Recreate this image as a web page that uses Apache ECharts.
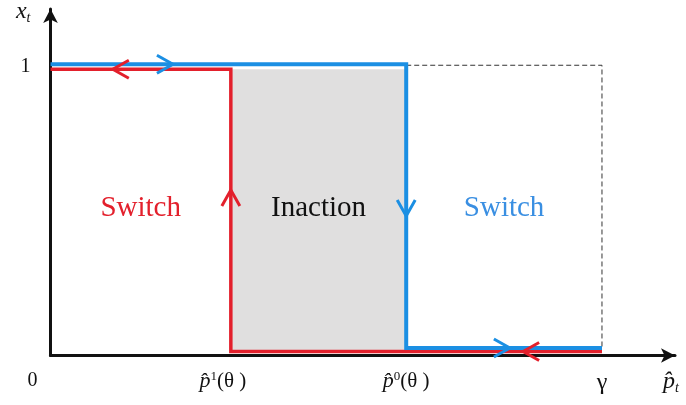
<!DOCTYPE html>
<html>
<head>
<meta charset="utf-8">
<script src="https://cdn.jsdelivr.net/npm/echarts@6/dist/echarts.min.js"></script>
<style>
  html, body { margin: 0; padding: 0; background: #fff; }
  #chart { width: 686px; height: 405px; }
</style>
</head>
<body>
<div id="chart"></div>
<script>
// Thresholds on the belief axis (gamma normalised to 1)
const P1 = 0.327;      // p̂¹(θ)
const P0 = 0.645;      // p̂⁰(θ)
const GAMMA = 1;

// Tick marks along the horizontal axis and their labels
const xTickValues = [0, P1, P0, GAMMA];
const xTickLabels = ['{z|0}', '{i|p̂}{s|1}{r|(θ )}{g| }', '{i|p̂}{s|0}{r|(θ )}', '{y|γ}'];
const yTickValues = [1];
const yTickLabels = ['1'];

// Policy paths (x_t as a function of p̂_t)
const redPath = [[0, 1], [P1, 1], [P1, 0], [GAMMA, 0]];
const bluePath = [[0, 1], [P0, 1], [P0, 0], [GAMMA, 0]];
const boundaryPath = [[P0, 1], [GAMMA, 1], [GAMMA, 0]];
const inactionBand = [[P1, 0], [P0, 1]];

// Direction markers: [x, y, direction]
const redArrows = [[0.113, 1, 'left'], [P1, 0.573, 'up'], [0.857, 0, 'left']];
const blueArrows = [[0.222, 1, 'right'], [P0, 0.483, 'down'], [0.833, 0, 'right']];

// Region captions
const regionNames = ['Switch', 'Inaction', 'Switch'];
const regionX = [(0 + P1) / 2, (P1 + P0) / 2, (P0 + GAMMA) / 2];
const regionY = [0.51, 0.51, 0.51];

const RED = '#e3202c';
const BLUE = '#1b8fe3';
const SERIF = '"Liberation Serif", "Times New Roman", serif';

// pixel nudges so overlapping paths stay visible
const nudge = {
  red: { top: 2.5, bottom: -4 },
  blue: { top: -2.5, bottom: -7.5 },
  dash: { top: -1.5, bottom: -7.5 }
};
const angleOf = { right: 0, up: Math.PI / 2, left: Math.PI, down: -Math.PI / 2 };

function nudged(api, x, y, n) {
  const c = api.coord([x, y]);
  if (y === 1) c[1] += n.top;
  else if (y === 0) c[1] += n.bottom;
  return c;
}

function pathSeries(points, n, style, z) {
  return {
    type: 'custom',
    coordinateSystem: 'cartesian2d',
    z: z,
    silent: true,
    data: points,
    renderItem: function (params, api) {
      if (params.dataIndex !== 0) return null;
      const pts = points.map(p => nudged(api, p[0], p[1], n));
      return { type: 'polyline', shape: { points: pts }, style: Object.assign({ fill: null, lineJoin: 'miter' }, style) };
    }
  };
}

function arrowSeries(marks, n, color) {
  return {
    type: 'custom',
    coordinateSystem: 'cartesian2d',
    z: 6,
    silent: true,
    data: marks.map(m => [m[0], m[1], angleOf[m[2]]]),
    renderItem: function (params, api) {
      const c = nudged(api, api.value(0), api.value(1), n);
      return {
        type: 'polyline',
        x: c[0], y: c[1],
        rotation: api.value(2),
        shape: { points: [[-16, -9], [0, 0], [-16, 9]] },
        style: { stroke: color, lineWidth: 3, fill: null }
      };
    }
  };
}

const chart = echarts.init(document.getElementById('chart'), null, { renderer: 'canvas' });

chart.setOption({
  animation: false,
  backgroundColor: '#ffffff',
  grid: { left: 50.5, right: 11, top: 7, bottom: 49.5, containLabel: false },
  xAxis: {
    type: 'value',
    min: 0,
    max: 1.1324,
    name: '{i|p̂}{s|t}',
    nameLocation: 'end',
    nameGap: -4,
    nameTextStyle: {
      align: 'center', verticalAlign: 'top', padding: [12, 0, 0, 0],
      rich: {
        i: { fontFamily: SERIF, fontStyle: 'italic', fontSize: 24, color: '#111' },
        s: { fontFamily: SERIF, fontStyle: 'italic', fontSize: 14, color: '#111', verticalAlign: 'bottom', padding: [14, 0, 0, 0] }
      }
    },
    axisLine: { show: true, onZero: false, symbol: ['none', 'arrow'], symbolSize: [11, 14], lineStyle: { color: '#111', width: 3 } },
    axisTick: { show: false },
    splitLine: { show: false },
    axisLabel: {
      customValues: xTickValues,
      margin: 15,
      formatter: function (v) {
        const i = xTickValues.findIndex(t => Math.abs(t - v) < 1e-9);
        return i >= 0 ? xTickLabels[i] : '';
      },
      rich: {
        z: { fontFamily: SERIF, fontSize: 20, color: '#111', padding: [0, 36, 0, 0] },
        i: { fontFamily: SERIF, fontStyle: 'italic', fontSize: 22, color: '#111' },
        s: { fontFamily: SERIF, fontSize: 13, color: '#111', verticalAlign: 'top' },
        r: { fontFamily: SERIF, fontSize: 21, color: '#111' },
        g: { fontFamily: SERIF, fontSize: 21, width: 16 },
        y: { fontFamily: SERIF, fontSize: 24, color: '#111' }
      }
    }
  },
  yAxis: {
    type: 'value',
    min: 0,
    max: 1.2,
    name: '{i|x}{s|t}',
    nameLocation: 'end',
    nameGap: 10,
    nameTextStyle: {
      align: 'right', verticalAlign: 'top', padding: [0, 20, 0, 0],
      rich: {
        i: { fontFamily: SERIF, fontStyle: 'italic', fontSize: 24, color: '#111' },
        s: { fontFamily: SERIF, fontStyle: 'italic', fontSize: 14, color: '#111', verticalAlign: 'bottom', padding: [12, 0, 0, 0] }
      }
    },
    axisLine: { show: true, onZero: false, symbol: ['none', 'arrow'], symbolSize: [11, 14], lineStyle: { color: '#111', width: 3 } },
    axisTick: { show: false },
    splitLine: { show: false },
    axisLabel: {
      customValues: yTickValues,
      margin: 20,
      fontFamily: SERIF,
      fontSize: 20,
      color: '#111',
      padding: [5, 0, 0, 0],
      formatter: function (v) {
        const i = yTickValues.findIndex(t => Math.abs(t - v) < 1e-9);
        return i >= 0 ? yTickLabels[i] : '';
      }
    }
  },
  series: [
    // inaction band
    {
      type: 'custom',
      coordinateSystem: 'cartesian2d',
      z: 1,
      silent: true,
      data: inactionBand,
      renderItem: function (params, api) {
        if (params.dataIndex !== 0) return null;
        const a = nudged(api, inactionBand[0][0], inactionBand[0][1], nudge.red);
        const b = nudged(api, inactionBand[1][0], inactionBand[1][1], nudge.red);
        return {
          type: 'rect',
          shape: { x: a[0], y: b[1], width: b[0] - a[0], height: a[1] - b[1] },
          style: { fill: '#e0dfdf' }
        };
      }
    },
    pathSeries(boundaryPath, nudge.dash, { stroke: '#333', lineWidth: 1, lineDash: [5, 3] }, 2),
    pathSeries(redPath, nudge.red, { stroke: RED, lineWidth: 3.5 }, 4),
    pathSeries(bluePath, nudge.blue, { stroke: BLUE, lineWidth: 4 }, 5),
    arrowSeries(redArrows, nudge.red, RED),
    arrowSeries(blueArrows, nudge.blue, BLUE),
    // region captions
    {
      type: 'custom',
      coordinateSystem: 'cartesian2d',
      z: 7,
      silent: true,
      data: regionX.map((x, i) => [x, regionY[i]]),
      renderItem: function (params, api) {
        const c = api.coord([api.value(0), api.value(1)]);
        const colors = [RED, '#111', '#3a8fe2'];
        return {
          type: 'text',
          x: c[0], y: c[1],
          style: {
            text: regionNames[params.dataIndex],
            fill: colors[params.dataIndex],
            font: '29px ' + SERIF,
            align: 'center',
            verticalAlign: 'middle'
          }
        };
      }
    }
  ]
});
</script>
</body>
</html>
